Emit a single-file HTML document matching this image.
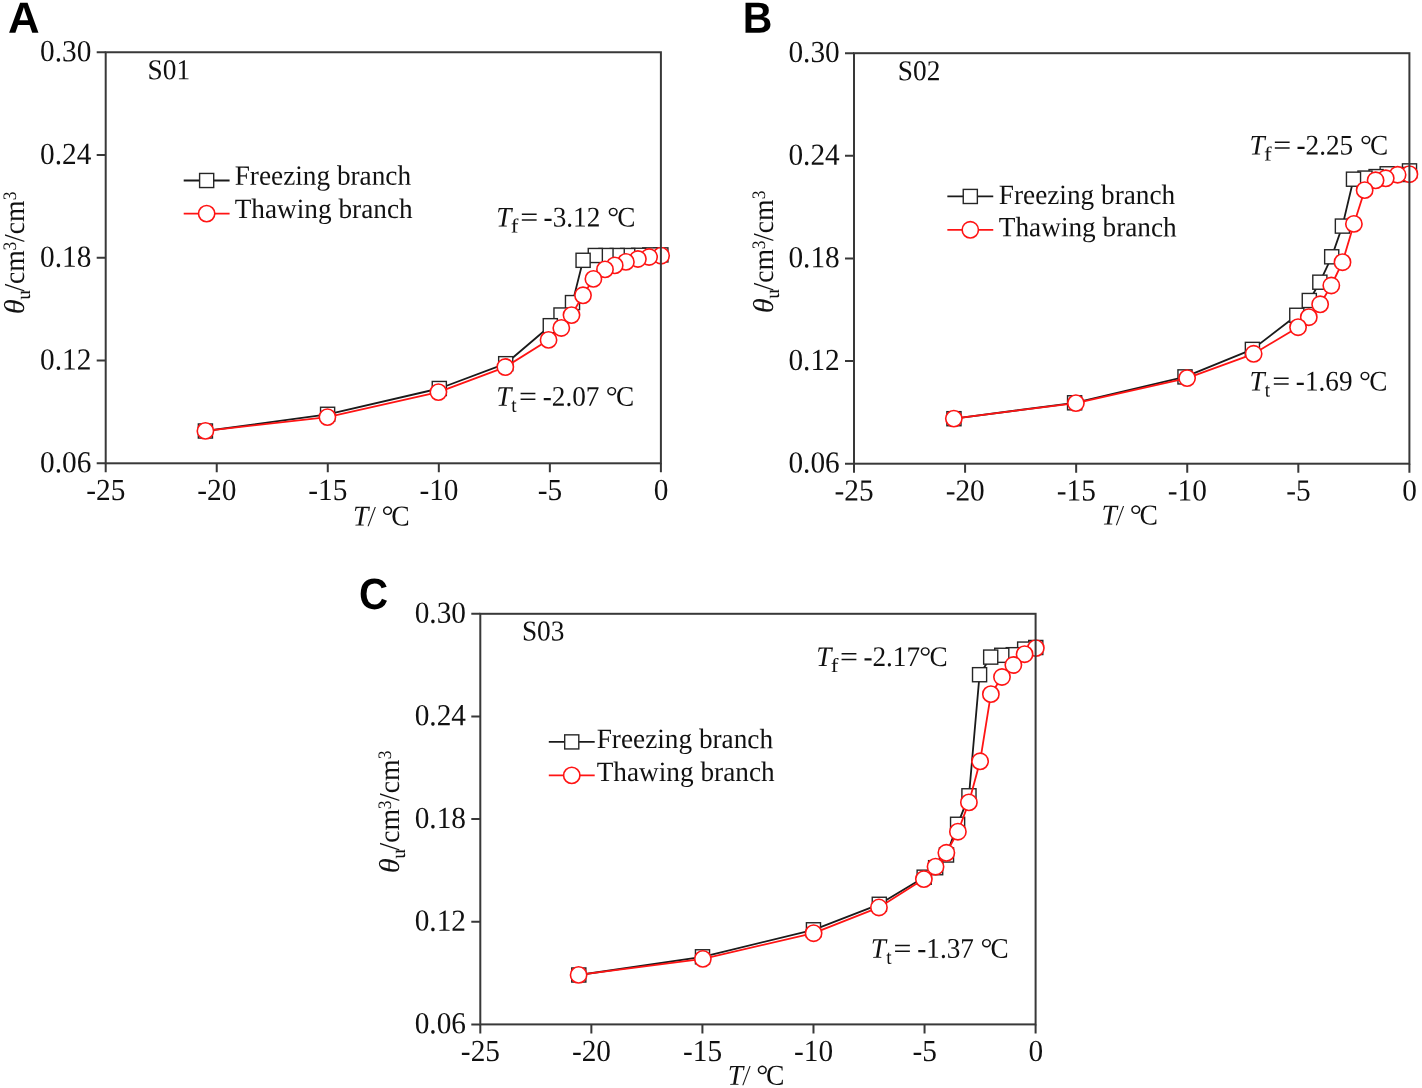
<!DOCTYPE html>
<html><head><meta charset="utf-8"><title>Figure</title>
<style>html,body{margin:0;padding:0;background:#fff;}body{width:1422px;height:1088px;overflow:hidden;}
#wrap{will-change:transform;width:1422px;height:1088px;}
svg{display:block;font-family:"Liberation Serif",serif;text-rendering:geometricPrecision;}</style></head><body><div id="wrap">
<svg width="1422" height="1088" viewBox="0 0 1422 1088">
<rect width="1422" height="1088" fill="#fff"/>
<g id="panelA">
<text transform="translate(105.80 500.00) rotate(0.03) scale(0.958 1)" text-anchor="middle" font-size="30.6" fill="#111111">-25</text>
<text transform="translate(216.84 500.00) rotate(0.03) scale(0.958 1)" text-anchor="middle" font-size="30.6" fill="#111111">-20</text>
<text transform="translate(327.88 500.00) rotate(0.03) scale(0.958 1)" text-anchor="middle" font-size="30.6" fill="#111111">-15</text>
<text transform="translate(438.92 500.00) rotate(0.03) scale(0.958 1)" text-anchor="middle" font-size="30.6" fill="#111111">-10</text>
<text transform="translate(549.96 500.00) rotate(0.03) scale(0.958 1)" text-anchor="middle" font-size="30.6" fill="#111111">-5</text>
<text transform="translate(661.10 500.00) rotate(0.03) scale(0.958 1)" text-anchor="middle" font-size="30.6" fill="#111111">0</text>
<text transform="translate(91.40 472.20) rotate(0.03) scale(0.958 1)" text-anchor="end" font-size="30.6" fill="#111111">0.06</text>
<text transform="translate(91.40 369.44) rotate(0.03) scale(0.958 1)" text-anchor="end" font-size="30.6" fill="#111111">0.12</text>
<text transform="translate(91.40 266.67) rotate(0.03) scale(0.958 1)" text-anchor="end" font-size="30.6" fill="#111111">0.18</text>
<text transform="translate(91.40 163.91) rotate(0.03) scale(0.958 1)" text-anchor="end" font-size="30.6" fill="#111111">0.24</text>
<text transform="translate(91.40 61.15) rotate(0.03) scale(0.958 1)" text-anchor="end" font-size="30.6" fill="#111111">0.30</text>
<text transform="translate(8.1 32.7) rotate(0.03) scale(1.0 1)" font-family="Liberation Sans, sans-serif" font-weight="bold" font-size="43.8" fill="#000">A</text>
<text transform="translate(147.60 79.20) rotate(0.03) scale(0.948 1)" font-size="28.8" fill="#111111">S01</text>
<polyline points="205.40,431.00 327.60,414.30 439.30,388.50 505.70,363.70 550.30,325.70 561.00,315.00 572.50,302.60 583.10,260.30 595.30,255.50 606.00,255.50 617.20,255.50 627.70,255.50 638.70,255.30 649.80,254.90 660.90,254.90" fill="none" stroke="#1a1a1a" stroke-width="1.8" stroke-linejoin="round"/>
<rect x="653.85" y="247.85" width="14.1" height="14.1" fill="#fff" stroke="#262626" stroke-width="1.4"/>
<rect x="642.75" y="247.85" width="14.1" height="14.1" fill="#fff" stroke="#262626" stroke-width="1.4"/>
<rect x="631.65" y="248.25" width="14.1" height="14.1" fill="#fff" stroke="#262626" stroke-width="1.4"/>
<rect x="620.65" y="248.45" width="14.1" height="14.1" fill="#fff" stroke="#262626" stroke-width="1.4"/>
<rect x="610.15" y="248.45" width="14.1" height="14.1" fill="#fff" stroke="#262626" stroke-width="1.4"/>
<rect x="598.95" y="248.45" width="14.1" height="14.1" fill="#fff" stroke="#262626" stroke-width="1.4"/>
<rect x="588.25" y="248.45" width="14.1" height="14.1" fill="#fff" stroke="#262626" stroke-width="1.4"/>
<rect x="576.05" y="253.25" width="14.1" height="14.1" fill="#fff" stroke="#262626" stroke-width="1.4"/>
<rect x="565.45" y="295.55" width="14.1" height="14.1" fill="#fff" stroke="#262626" stroke-width="1.4"/>
<rect x="553.95" y="307.95" width="14.1" height="14.1" fill="#fff" stroke="#262626" stroke-width="1.4"/>
<rect x="543.25" y="318.65" width="14.1" height="14.1" fill="#fff" stroke="#262626" stroke-width="1.4"/>
<rect x="498.65" y="356.65" width="14.1" height="14.1" fill="#fff" stroke="#262626" stroke-width="1.4"/>
<rect x="432.25" y="381.45" width="14.1" height="14.1" fill="#fff" stroke="#262626" stroke-width="1.4"/>
<rect x="320.55" y="407.25" width="14.1" height="14.1" fill="#fff" stroke="#262626" stroke-width="1.4"/>
<rect x="198.35" y="423.95" width="14.1" height="14.1" fill="#fff" stroke="#262626" stroke-width="1.4"/>
<polyline points="205.40,430.90 327.40,417.10 438.40,392.10 505.30,367.05 548.55,339.90 561.30,327.95 571.50,315.10 583.00,295.30 593.40,278.90 605.00,269.40 614.70,265.40 625.90,261.90 637.90,259.00 649.10,257.00 661.10,255.70" fill="none" stroke="#ff1414" stroke-width="1.8" stroke-linejoin="round"/>
<circle cx="661.10" cy="255.70" r="8.15" fill="#fff" stroke="#ff1414" stroke-width="1.6"/>
<circle cx="649.10" cy="257.00" r="8.15" fill="#fff" stroke="#ff1414" stroke-width="1.6"/>
<circle cx="637.90" cy="259.00" r="8.15" fill="#fff" stroke="#ff1414" stroke-width="1.6"/>
<circle cx="625.90" cy="261.90" r="8.15" fill="#fff" stroke="#ff1414" stroke-width="1.6"/>
<circle cx="614.70" cy="265.40" r="8.15" fill="#fff" stroke="#ff1414" stroke-width="1.6"/>
<circle cx="605.00" cy="269.40" r="8.15" fill="#fff" stroke="#ff1414" stroke-width="1.6"/>
<circle cx="593.40" cy="278.90" r="8.15" fill="#fff" stroke="#ff1414" stroke-width="1.6"/>
<circle cx="583.00" cy="295.30" r="8.15" fill="#fff" stroke="#ff1414" stroke-width="1.6"/>
<circle cx="571.50" cy="315.10" r="8.15" fill="#fff" stroke="#ff1414" stroke-width="1.6"/>
<circle cx="561.30" cy="327.95" r="8.15" fill="#fff" stroke="#ff1414" stroke-width="1.6"/>
<circle cx="548.55" cy="339.90" r="8.15" fill="#fff" stroke="#ff1414" stroke-width="1.6"/>
<circle cx="505.30" cy="367.05" r="8.15" fill="#fff" stroke="#ff1414" stroke-width="1.6"/>
<circle cx="438.40" cy="392.10" r="8.15" fill="#fff" stroke="#ff1414" stroke-width="1.6"/>
<circle cx="327.40" cy="417.10" r="8.15" fill="#fff" stroke="#ff1414" stroke-width="1.6"/>
<circle cx="205.40" cy="430.90" r="8.15" fill="#fff" stroke="#ff1414" stroke-width="1.6"/>
<rect x="105.70" y="52.25" width="555.20" height="411.05" fill="none" stroke="#383838" stroke-width="2.0"/>
<path d="M105.70 463.30v9.0 M216.74 463.30v9.0 M327.78 463.30v9.0 M438.82 463.30v9.0 M549.86 463.30v9.0 M660.90 463.30v9.0 M105.70 463.30h-9.0 M105.70 360.54h-9.0 M105.70 257.77h-9.0 M105.70 155.01h-9.0 M105.70 52.25h-9.0" stroke="#383838" stroke-width="2.0" fill="none"/>
<path d="M183.70 180.50h45.9" stroke="#1a1a1a" stroke-width="1.8" fill="none"/>
<rect x="199.60" y="173.45" width="14.1" height="14.1" fill="#fff" stroke="#262626" stroke-width="1.4"/>
<text transform="translate(234.70 184.65) rotate(0.03) scale(0.976 1)" font-size="27.95" fill="#111111">Freezing branch</text>
<path d="M183.70 213.60h45.9" stroke="#ff1414" stroke-width="1.8" fill="none"/>
<circle cx="206.65" cy="213.60" r="8.15" fill="#fff" stroke="#ff1414" stroke-width="1.6"/>
<text transform="translate(234.70 217.90) rotate(0.03) scale(0.976 1)" font-size="27.95" fill="#111111">Thawing branch</text>
<text transform="translate(496.13 226.60) rotate(0.03) scale(0.958 1)" font-size="28.4" fill="#111111" font-style="italic">T</text>
<text transform="translate(510.69 232.60) rotate(0.03) scale(1.15 1)" font-size="20" fill="#111111">f</text>
<text transform="translate(520.16 226.60) rotate(0.03) scale(1.12 1)" font-size="28.4" fill="#111111">=</text>
<text transform="translate(543.59 226.60) rotate(0.03) scale(0.958 1)" font-size="28.4" fill="#111111">-3.12</text>
<text transform="translate(607.27 226.60) rotate(0.03) scale(1.05 1)" font-size="28.4" fill="#111111">°</text>
<text transform="translate(617.18 226.60) rotate(0.03) scale(0.958 1)" font-size="28.4" fill="#111111">C</text>
<text transform="translate(496.13 405.80) rotate(0.03) scale(0.958 1)" font-size="28.4" fill="#111111" font-style="italic">T</text>
<text transform="translate(511.21 411.80) rotate(0.03) scale(0.958 1)" font-size="20" fill="#111111">t</text>
<text transform="translate(519.01 405.80) rotate(0.03) scale(1.12 1)" font-size="28.4" fill="#111111">=</text>
<text transform="translate(542.79 405.80) rotate(0.03) scale(0.958 1)" font-size="28.4" fill="#111111">-2.07</text>
<text transform="translate(605.77 405.80) rotate(0.03) scale(1.05 1)" font-size="28.4" fill="#111111">°</text>
<text transform="translate(615.98 405.80) rotate(0.03) scale(0.958 1)" font-size="28.4" fill="#111111">C</text>
<text transform="translate(23.90 314.30) rotate(-90) scale(1.06 1)" font-size="28.8" fill="#111111" font-style="italic">θ</text>
<text transform="translate(29.90 299.85) rotate(-90) scale(0.958 1)" font-size="20" fill="#111111">u</text>
<text transform="translate(23.90 291.60) rotate(-90) scale(0.958 1)" font-size="28.8" fill="#111111">/cm</text>
<text transform="translate(15.80 250.44) rotate(-90) scale(0.92 1)" font-size="19" fill="#111111">3</text>
<text transform="translate(23.90 242.00) rotate(-90) scale(0.958 1)" font-size="28.8" fill="#111111">/cm</text>
<text transform="translate(15.80 200.34) rotate(-90) scale(0.92 1)" font-size="19" fill="#111111">3</text>
<text transform="translate(353.11 525.60) rotate(0.03) scale(0.958 1)" font-size="28.8" fill="#111111" font-style="italic">T</text>
<text transform="translate(368.50 525.60) rotate(0.03) scale(0.72 1)" font-size="28.8" fill="#111111" font-style="italic">/</text>
<text transform="translate(381.55 525.60) rotate(0.03) scale(1.05 1)" font-size="28.8" fill="#111111">°</text>
<text transform="translate(391.32 525.60) rotate(0.03) scale(0.958 1)" font-size="28.8" fill="#111111">C</text>
</g>
<g id="panelB">
<text transform="translate(854.10 500.40) rotate(0.03) scale(0.958 1)" text-anchor="middle" font-size="30.6" fill="#111111">-25</text>
<text transform="translate(965.18 500.40) rotate(0.03) scale(0.958 1)" text-anchor="middle" font-size="30.6" fill="#111111">-20</text>
<text transform="translate(1076.26 500.40) rotate(0.03) scale(0.958 1)" text-anchor="middle" font-size="30.6" fill="#111111">-15</text>
<text transform="translate(1187.34 500.40) rotate(0.03) scale(0.958 1)" text-anchor="middle" font-size="30.6" fill="#111111">-10</text>
<text transform="translate(1298.42 500.40) rotate(0.03) scale(0.958 1)" text-anchor="middle" font-size="30.6" fill="#111111">-5</text>
<text transform="translate(1409.60 500.40) rotate(0.03) scale(0.958 1)" text-anchor="middle" font-size="30.6" fill="#111111">0</text>
<text transform="translate(839.70 472.60) rotate(0.03) scale(0.958 1)" text-anchor="end" font-size="30.6" fill="#111111">0.06</text>
<text transform="translate(839.70 369.97) rotate(0.03) scale(0.958 1)" text-anchor="end" font-size="30.6" fill="#111111">0.12</text>
<text transform="translate(839.70 267.35) rotate(0.03) scale(0.958 1)" text-anchor="end" font-size="30.6" fill="#111111">0.18</text>
<text transform="translate(839.70 164.72) rotate(0.03) scale(0.958 1)" text-anchor="end" font-size="30.6" fill="#111111">0.24</text>
<text transform="translate(839.70 62.10) rotate(0.03) scale(0.958 1)" text-anchor="end" font-size="30.6" fill="#111111">0.30</text>
<text transform="translate(742.8 32.7) rotate(0.03) scale(0.935 1)" font-family="Liberation Sans, sans-serif" font-weight="bold" font-size="43.8" fill="#000">B</text>
<text transform="translate(897.85 80.35) rotate(0.03) scale(0.948 1)" font-size="28.8" fill="#111111">S02</text>
<polyline points="953.95,418.70 1074.60,402.80 1185.00,376.90 1252.40,349.40 1296.80,315.30 1309.30,300.50 1319.85,282.20 1331.70,256.80 1342.40,226.10 1353.50,179.20 1365.00,178.10 1376.10,176.60 1387.20,173.80 1398.30,174.50 1409.50,170.90" fill="none" stroke="#1a1a1a" stroke-width="1.8" stroke-linejoin="round"/>
<rect x="1402.45" y="163.85" width="14.1" height="14.1" fill="#fff" stroke="#262626" stroke-width="1.4"/>
<rect x="1391.25" y="167.45" width="14.1" height="14.1" fill="#fff" stroke="#262626" stroke-width="1.4"/>
<rect x="1380.15" y="166.75" width="14.1" height="14.1" fill="#fff" stroke="#262626" stroke-width="1.4"/>
<rect x="1369.05" y="169.55" width="14.1" height="14.1" fill="#fff" stroke="#262626" stroke-width="1.4"/>
<rect x="1357.95" y="171.05" width="14.1" height="14.1" fill="#fff" stroke="#262626" stroke-width="1.4"/>
<rect x="1346.45" y="172.15" width="14.1" height="14.1" fill="#fff" stroke="#262626" stroke-width="1.4"/>
<rect x="1335.35" y="219.05" width="14.1" height="14.1" fill="#fff" stroke="#262626" stroke-width="1.4"/>
<rect x="1324.65" y="249.75" width="14.1" height="14.1" fill="#fff" stroke="#262626" stroke-width="1.4"/>
<rect x="1312.80" y="275.15" width="14.1" height="14.1" fill="#fff" stroke="#262626" stroke-width="1.4"/>
<rect x="1302.25" y="293.45" width="14.1" height="14.1" fill="#fff" stroke="#262626" stroke-width="1.4"/>
<rect x="1289.75" y="308.25" width="14.1" height="14.1" fill="#fff" stroke="#262626" stroke-width="1.4"/>
<rect x="1245.35" y="342.35" width="14.1" height="14.1" fill="#fff" stroke="#262626" stroke-width="1.4"/>
<rect x="1177.95" y="369.85" width="14.1" height="14.1" fill="#fff" stroke="#262626" stroke-width="1.4"/>
<rect x="1067.55" y="395.75" width="14.1" height="14.1" fill="#fff" stroke="#262626" stroke-width="1.4"/>
<rect x="946.90" y="411.65" width="14.1" height="14.1" fill="#fff" stroke="#262626" stroke-width="1.4"/>
<polyline points="953.85,418.60 1075.90,403.10 1187.10,378.10 1253.65,353.80 1298.06,327.20 1308.80,317.20 1320.15,304.30 1331.30,285.50 1342.50,262.20 1353.90,223.90 1364.66,190.17 1375.60,180.30 1385.75,178.30 1397.60,174.75 1409.40,174.20" fill="none" stroke="#ff1414" stroke-width="1.8" stroke-linejoin="round"/>
<circle cx="1409.40" cy="174.20" r="8.15" fill="#fff" stroke="#ff1414" stroke-width="1.6"/>
<circle cx="1397.60" cy="174.75" r="8.15" fill="#fff" stroke="#ff1414" stroke-width="1.6"/>
<circle cx="1385.75" cy="178.30" r="8.15" fill="#fff" stroke="#ff1414" stroke-width="1.6"/>
<circle cx="1375.60" cy="180.30" r="8.15" fill="#fff" stroke="#ff1414" stroke-width="1.6"/>
<circle cx="1364.66" cy="190.17" r="8.15" fill="#fff" stroke="#ff1414" stroke-width="1.6"/>
<circle cx="1353.90" cy="223.90" r="8.15" fill="#fff" stroke="#ff1414" stroke-width="1.6"/>
<circle cx="1342.50" cy="262.20" r="8.15" fill="#fff" stroke="#ff1414" stroke-width="1.6"/>
<circle cx="1331.30" cy="285.50" r="8.15" fill="#fff" stroke="#ff1414" stroke-width="1.6"/>
<circle cx="1320.15" cy="304.30" r="8.15" fill="#fff" stroke="#ff1414" stroke-width="1.6"/>
<circle cx="1308.80" cy="317.20" r="8.15" fill="#fff" stroke="#ff1414" stroke-width="1.6"/>
<circle cx="1298.06" cy="327.20" r="8.15" fill="#fff" stroke="#ff1414" stroke-width="1.6"/>
<circle cx="1253.65" cy="353.80" r="8.15" fill="#fff" stroke="#ff1414" stroke-width="1.6"/>
<circle cx="1187.10" cy="378.10" r="8.15" fill="#fff" stroke="#ff1414" stroke-width="1.6"/>
<circle cx="1075.90" cy="403.10" r="8.15" fill="#fff" stroke="#ff1414" stroke-width="1.6"/>
<circle cx="953.85" cy="418.60" r="8.15" fill="#fff" stroke="#ff1414" stroke-width="1.6"/>
<rect x="854.00" y="53.20" width="555.40" height="410.50" fill="none" stroke="#383838" stroke-width="2.0"/>
<path d="M854.00 463.70v9.0 M965.08 463.70v9.0 M1076.16 463.70v9.0 M1187.24 463.70v9.0 M1298.32 463.70v9.0 M1409.40 463.70v9.0 M854.00 463.70h-9.0 M854.00 361.07h-9.0 M854.00 258.45h-9.0 M854.00 155.82h-9.0 M854.00 53.20h-9.0" stroke="#383838" stroke-width="2.0" fill="none"/>
<path d="M947.35 196.45h45.9" stroke="#1a1a1a" stroke-width="1.8" fill="none"/>
<rect x="963.25" y="189.40" width="14.1" height="14.1" fill="#fff" stroke="#262626" stroke-width="1.4"/>
<text transform="translate(998.80 203.90) rotate(0.03) scale(0.976 1)" font-size="27.95" fill="#111111">Freezing branch</text>
<path d="M947.35 229.80h45.9" stroke="#ff1414" stroke-width="1.8" fill="none"/>
<circle cx="970.30" cy="229.80" r="8.15" fill="#fff" stroke="#ff1414" stroke-width="1.6"/>
<text transform="translate(998.80 236.30) rotate(0.03) scale(0.976 1)" font-size="27.95" fill="#111111">Thawing branch</text>
<text transform="translate(1249.48 154.40) rotate(0.03) scale(0.958 1)" font-size="28.4" fill="#111111" font-style="italic">T</text>
<text transform="translate(1264.04 160.40) rotate(0.03) scale(1.15 1)" font-size="20" fill="#111111">f</text>
<text transform="translate(1273.26 154.40) rotate(0.03) scale(1.12 1)" font-size="28.4" fill="#111111">=</text>
<text transform="translate(1296.54 154.40) rotate(0.03) scale(0.958 1)" font-size="28.4" fill="#111111">-2.25</text>
<text transform="translate(1360.02 154.40) rotate(0.03) scale(1.05 1)" font-size="28.4" fill="#111111">°</text>
<text transform="translate(1369.93 154.40) rotate(0.03) scale(0.958 1)" font-size="28.4" fill="#111111">C</text>
<text transform="translate(1249.48 390.40) rotate(0.03) scale(0.958 1)" font-size="28.4" fill="#111111" font-style="italic">T</text>
<text transform="translate(1264.76 396.40) rotate(0.03) scale(0.958 1)" font-size="20" fill="#111111">t</text>
<text transform="translate(1272.16 390.40) rotate(0.03) scale(1.12 1)" font-size="28.4" fill="#111111">=</text>
<text transform="translate(1295.84 390.40) rotate(0.03) scale(0.958 1)" font-size="28.4" fill="#111111">-1.69</text>
<text transform="translate(1359.12 390.40) rotate(0.03) scale(1.05 1)" font-size="28.4" fill="#111111">°</text>
<text transform="translate(1369.13 390.40) rotate(0.03) scale(0.958 1)" font-size="28.4" fill="#111111">C</text>
<text transform="translate(772.60 313.20) rotate(-90) scale(1.06 1)" font-size="28.8" fill="#111111" font-style="italic">θ</text>
<text transform="translate(778.60 298.75) rotate(-90) scale(0.958 1)" font-size="20" fill="#111111">u</text>
<text transform="translate(772.60 290.50) rotate(-90) scale(0.958 1)" font-size="28.8" fill="#111111">/cm</text>
<text transform="translate(764.50 249.34) rotate(-90) scale(0.92 1)" font-size="19" fill="#111111">3</text>
<text transform="translate(772.60 240.90) rotate(-90) scale(0.958 1)" font-size="28.8" fill="#111111">/cm</text>
<text transform="translate(764.50 199.24) rotate(-90) scale(0.92 1)" font-size="19" fill="#111111">3</text>
<text transform="translate(1101.41 524.50) rotate(0.03) scale(0.958 1)" font-size="28.8" fill="#111111" font-style="italic">T</text>
<text transform="translate(1116.80 524.50) rotate(0.03) scale(0.72 1)" font-size="28.8" fill="#111111" font-style="italic">/</text>
<text transform="translate(1129.85 524.50) rotate(0.03) scale(1.05 1)" font-size="28.8" fill="#111111">°</text>
<text transform="translate(1139.62 524.50) rotate(0.03) scale(0.958 1)" font-size="28.8" fill="#111111">C</text>
</g>
<g id="panelC">
<text transform="translate(480.40 1061.10) rotate(0.03) scale(0.958 1)" text-anchor="middle" font-size="30.6" fill="#111111">-25</text>
<text transform="translate(591.46 1061.10) rotate(0.03) scale(0.958 1)" text-anchor="middle" font-size="30.6" fill="#111111">-20</text>
<text transform="translate(702.52 1061.10) rotate(0.03) scale(0.958 1)" text-anchor="middle" font-size="30.6" fill="#111111">-15</text>
<text transform="translate(813.58 1061.10) rotate(0.03) scale(0.958 1)" text-anchor="middle" font-size="30.6" fill="#111111">-10</text>
<text transform="translate(924.64 1061.10) rotate(0.03) scale(0.958 1)" text-anchor="middle" font-size="30.6" fill="#111111">-5</text>
<text transform="translate(1035.80 1061.10) rotate(0.03) scale(0.958 1)" text-anchor="middle" font-size="30.6" fill="#111111">0</text>
<text transform="translate(466.00 1033.30) rotate(0.03) scale(0.958 1)" text-anchor="end" font-size="30.6" fill="#111111">0.06</text>
<text transform="translate(466.00 930.65) rotate(0.03) scale(0.958 1)" text-anchor="end" font-size="30.6" fill="#111111">0.12</text>
<text transform="translate(466.00 828.00) rotate(0.03) scale(0.958 1)" text-anchor="end" font-size="30.6" fill="#111111">0.18</text>
<text transform="translate(466.00 725.35) rotate(0.03) scale(0.958 1)" text-anchor="end" font-size="30.6" fill="#111111">0.24</text>
<text transform="translate(466.00 622.70) rotate(0.03) scale(0.958 1)" text-anchor="end" font-size="30.6" fill="#111111">0.30</text>
<text transform="translate(359.1 608.9) rotate(0.03) scale(0.92 1)" font-family="Liberation Sans, sans-serif" font-weight="bold" font-size="43.8" fill="#000">C</text>
<text transform="translate(521.90 640.50) rotate(0.03) scale(0.948 1)" font-size="28.8" fill="#111111">S03</text>
<polyline points="578.80,975.00 702.50,956.80 813.47,929.80 879.30,904.30 924.17,877.20 935.64,867.70 946.50,855.00 957.60,824.30 968.96,795.80 979.57,674.70 990.70,657.10 1001.76,655.30 1013.30,654.70 1024.67,649.10 1035.76,647.50" fill="none" stroke="#1a1a1a" stroke-width="1.8" stroke-linejoin="round"/>
<rect x="1028.71" y="640.45" width="14.1" height="14.1" fill="#fff" stroke="#262626" stroke-width="1.4"/>
<rect x="1017.62" y="642.05" width="14.1" height="14.1" fill="#fff" stroke="#262626" stroke-width="1.4"/>
<rect x="1006.25" y="647.65" width="14.1" height="14.1" fill="#fff" stroke="#262626" stroke-width="1.4"/>
<rect x="994.71" y="648.25" width="14.1" height="14.1" fill="#fff" stroke="#262626" stroke-width="1.4"/>
<rect x="983.65" y="650.05" width="14.1" height="14.1" fill="#fff" stroke="#262626" stroke-width="1.4"/>
<rect x="972.52" y="667.65" width="14.1" height="14.1" fill="#fff" stroke="#262626" stroke-width="1.4"/>
<rect x="961.91" y="788.75" width="14.1" height="14.1" fill="#fff" stroke="#262626" stroke-width="1.4"/>
<rect x="950.55" y="817.25" width="14.1" height="14.1" fill="#fff" stroke="#262626" stroke-width="1.4"/>
<rect x="939.45" y="847.95" width="14.1" height="14.1" fill="#fff" stroke="#262626" stroke-width="1.4"/>
<rect x="928.59" y="860.65" width="14.1" height="14.1" fill="#fff" stroke="#262626" stroke-width="1.4"/>
<rect x="917.12" y="870.15" width="14.1" height="14.1" fill="#fff" stroke="#262626" stroke-width="1.4"/>
<rect x="872.25" y="897.25" width="14.1" height="14.1" fill="#fff" stroke="#262626" stroke-width="1.4"/>
<rect x="806.42" y="922.75" width="14.1" height="14.1" fill="#fff" stroke="#262626" stroke-width="1.4"/>
<rect x="695.45" y="949.75" width="14.1" height="14.1" fill="#fff" stroke="#262626" stroke-width="1.4"/>
<rect x="571.75" y="967.95" width="14.1" height="14.1" fill="#fff" stroke="#262626" stroke-width="1.4"/>
<polyline points="578.60,974.90 702.86,958.84 813.60,933.20 878.94,907.46 923.86,879.10 935.54,866.70 946.36,852.80 957.90,831.70 968.90,802.40 980.10,761.30 990.87,694.15 1001.99,677.00 1013.36,665.00 1024.58,654.20 1035.85,648.10" fill="none" stroke="#ff1414" stroke-width="1.8" stroke-linejoin="round"/>
<circle cx="1035.85" cy="648.10" r="8.15" fill="#fff" stroke="#ff1414" stroke-width="1.6"/>
<circle cx="1024.58" cy="654.20" r="8.15" fill="#fff" stroke="#ff1414" stroke-width="1.6"/>
<circle cx="1013.36" cy="665.00" r="8.15" fill="#fff" stroke="#ff1414" stroke-width="1.6"/>
<circle cx="1001.99" cy="677.00" r="8.15" fill="#fff" stroke="#ff1414" stroke-width="1.6"/>
<circle cx="990.87" cy="694.15" r="8.15" fill="#fff" stroke="#ff1414" stroke-width="1.6"/>
<circle cx="980.10" cy="761.30" r="8.15" fill="#fff" stroke="#ff1414" stroke-width="1.6"/>
<circle cx="968.90" cy="802.40" r="8.15" fill="#fff" stroke="#ff1414" stroke-width="1.6"/>
<circle cx="957.90" cy="831.70" r="8.15" fill="#fff" stroke="#ff1414" stroke-width="1.6"/>
<circle cx="946.36" cy="852.80" r="8.15" fill="#fff" stroke="#ff1414" stroke-width="1.6"/>
<circle cx="935.54" cy="866.70" r="8.15" fill="#fff" stroke="#ff1414" stroke-width="1.6"/>
<circle cx="923.86" cy="879.10" r="8.15" fill="#fff" stroke="#ff1414" stroke-width="1.6"/>
<circle cx="878.94" cy="907.46" r="8.15" fill="#fff" stroke="#ff1414" stroke-width="1.6"/>
<circle cx="813.60" cy="933.20" r="8.15" fill="#fff" stroke="#ff1414" stroke-width="1.6"/>
<circle cx="702.86" cy="958.84" r="8.15" fill="#fff" stroke="#ff1414" stroke-width="1.6"/>
<circle cx="578.60" cy="974.90" r="8.15" fill="#fff" stroke="#ff1414" stroke-width="1.6"/>
<rect x="480.30" y="613.80" width="555.30" height="410.60" fill="none" stroke="#383838" stroke-width="2.0"/>
<path d="M480.30 1024.40v9.0 M591.36 1024.40v9.0 M702.42 1024.40v9.0 M813.48 1024.40v9.0 M924.54 1024.40v9.0 M1035.60 1024.40v9.0 M480.30 1024.40h-9.0 M480.30 921.75h-9.0 M480.30 819.10h-9.0 M480.30 716.45h-9.0 M480.30 613.80h-9.0" stroke="#383838" stroke-width="2.0" fill="none"/>
<path d="M548.80 741.90h45.9" stroke="#1a1a1a" stroke-width="1.8" fill="none"/>
<rect x="564.70" y="734.85" width="14.1" height="14.1" fill="#fff" stroke="#262626" stroke-width="1.4"/>
<text transform="translate(596.70 748.05) rotate(0.03) scale(0.976 1)" font-size="27.95" fill="#111111">Freezing branch</text>
<path d="M548.80 775.40h45.9" stroke="#ff1414" stroke-width="1.8" fill="none"/>
<circle cx="571.75" cy="775.40" r="8.15" fill="#fff" stroke="#ff1414" stroke-width="1.6"/>
<text transform="translate(596.70 781.00) rotate(0.03) scale(0.976 1)" font-size="27.95" fill="#111111">Thawing branch</text>
<text transform="translate(816.13 666.10) rotate(0.03) scale(0.958 1)" font-size="28.4" fill="#111111" font-style="italic">T</text>
<text transform="translate(830.69 672.10) rotate(0.03) scale(1.15 1)" font-size="20" fill="#111111">f</text>
<text transform="translate(839.91 666.10) rotate(0.03) scale(1.12 1)" font-size="28.4" fill="#111111">=</text>
<text transform="translate(863.39 666.10) rotate(0.03) scale(0.958 1)" font-size="28.4" fill="#111111">-2.17</text>
<text transform="translate(919.37 666.10) rotate(0.03) scale(1.05 1)" font-size="28.4" fill="#111111">°</text>
<text transform="translate(929.58 666.10) rotate(0.03) scale(0.958 1)" font-size="28.4" fill="#111111">C</text>
<text transform="translate(870.83 957.70) rotate(0.03) scale(0.958 1)" font-size="28.4" fill="#111111" font-style="italic">T</text>
<text transform="translate(886.21 963.70) rotate(0.03) scale(0.958 1)" font-size="20" fill="#111111">t</text>
<text transform="translate(893.51 957.70) rotate(0.03) scale(1.12 1)" font-size="28.4" fill="#111111">=</text>
<text transform="translate(917.29 957.70) rotate(0.03) scale(0.958 1)" font-size="28.4" fill="#111111">-1.37</text>
<text transform="translate(980.57 957.70) rotate(0.03) scale(1.05 1)" font-size="28.4" fill="#111111">°</text>
<text transform="translate(990.48 957.70) rotate(0.03) scale(0.958 1)" font-size="28.4" fill="#111111">C</text>
<text transform="translate(399.00 873.20) rotate(-90) scale(1.06 1)" font-size="28.8" fill="#111111" font-style="italic">θ</text>
<text transform="translate(405.00 858.75) rotate(-90) scale(0.958 1)" font-size="20" fill="#111111">u</text>
<text transform="translate(399.00 850.50) rotate(-90) scale(0.958 1)" font-size="28.8" fill="#111111">/cm</text>
<text transform="translate(390.90 809.34) rotate(-90) scale(0.92 1)" font-size="19" fill="#111111">3</text>
<text transform="translate(399.00 800.90) rotate(-90) scale(0.958 1)" font-size="28.8" fill="#111111">/cm</text>
<text transform="translate(390.90 759.24) rotate(-90) scale(0.92 1)" font-size="19" fill="#111111">3</text>
<text transform="translate(727.81 1084.70) rotate(0.03) scale(0.958 1)" font-size="28.8" fill="#111111" font-style="italic">T</text>
<text transform="translate(743.20 1084.70) rotate(0.03) scale(0.72 1)" font-size="28.8" fill="#111111" font-style="italic">/</text>
<text transform="translate(756.25 1084.70) rotate(0.03) scale(1.05 1)" font-size="28.8" fill="#111111">°</text>
<text transform="translate(766.02 1084.70) rotate(0.03) scale(0.958 1)" font-size="28.8" fill="#111111">C</text>
</g>
</svg></div></body></html>
